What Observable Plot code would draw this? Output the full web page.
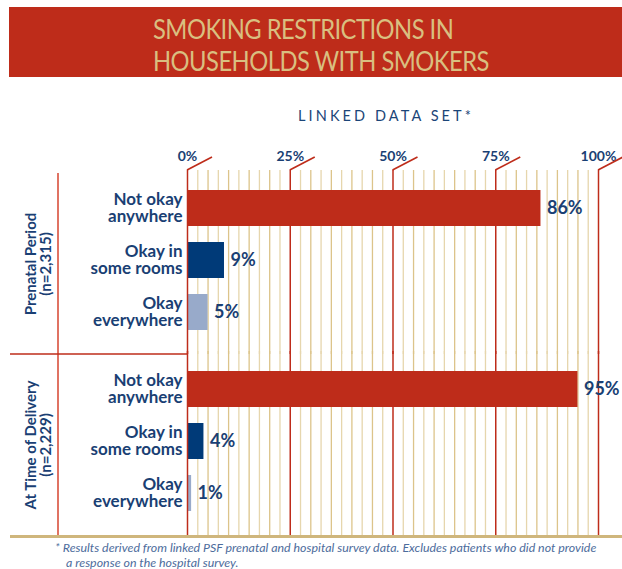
<!DOCTYPE html>
<html>
<head>
<meta charset="utf-8">
<script src="https://cdn.jsdelivr.net/npm/d3@7"></script>
<script src="https://cdn.jsdelivr.net/npm/@observablehq/plot@0.6"></script>
<style>
  html, body { margin: 0; padding: 0; background: #fff; }
  #wrap { position: relative; width: 622px; height: 569px; overflow: hidden; font-family: Lato, sans-serif; }
  #wrap svg { position: absolute; left: 0; top: 0; }
  .banner { position: absolute; left: 9px; top: 7px; width: 613px; height: 70px; background: #be2c1a; }
  .title { position: absolute; left: 153px; color: #d9bf80; font-size: 27px; font-weight: 400; white-space: nowrap; letter-spacing: -0.6px; line-height: 1; transform: scaleX(0.88); transform-origin: 0 0; }
  .subtitle { position: absolute; left: 0; width: 772px; top: 107px; text-align: center; color: #1b4578; font-size: 14.5px; letter-spacing: 3.1px; white-space: nowrap; }
  .note { position: absolute; color: #4d6c9c; font-size: 12.4px; font-style: italic; white-space: nowrap; line-height: 1; }
</style>
</head>
<body>
<div id="wrap">
  <div class="banner"></div>
  <div class="title" style="top:15px">SMOKING RESTRICTIONS IN</div>
  <div class="title" style="top:47px">HOUSEHOLDS WITH SMOKERS</div>
  <div class="subtitle">LINKED DATA SET*</div>
  <div class="note" style="left:55px; top:542px">* Results derived from linked PSF prenatal and hospital survey data. Excludes patients who did not provide</div>
  <div class="note" style="left:66px; top:557px">a response on the hospital survey.</div>
</div>
<script>
const groups = ["Prenatal Period\n(n=2,315)", "At Time of Delivery\n(n=2,229)"];
const categories = ["Not okay\nanywhere", "Okay in\nsome rooms", "Okay\neverywhere"];
const prenatalValues = [86, 9, 5];
const deliveryValues = [95, 4, 1];
const xTicks = [0, 25, 50, 75, 100];
const xTickLabels = ["0%", "25%", "50%", "75%", "100%"];
const barColors = ["#be2c1a", "#003a78", "#98aaca"];

const seriesByGroup = [prenatalValues, deliveryValues];
const rows = groups.flatMap((g, i) => categories.map((c, j) => ({group: g, category: c, value: seriesByGroup[i][j]})));
const minorTicks = d3.range(0, 100.01, 2.5).filter(t => !xTicks.includes(t));

const RED = "#be2c1a";
const BLUE = "#1a3f74";

const chart = Plot.plot({
  width: 622,
  height: 569,
  marginLeft: 187,
  marginRight: 24,
  marginTop: 173,
  marginBottom: 34,
  style: {fontFamily: "Lato, sans-serif", background: "transparent", overflow: "visible"},
  x: {domain: [0, 100], label: null},
  y: {domain: categories, axis: null, paddingInner: 0.31, paddingOuter: 0.385, align: 0.42},
  fy: {domain: groups, axis: null, padding: 0},
  color: {domain: categories, range: barColors},
  marks: [
    Plot.ruleX(minorTicks, {x: d => d, stroke: (d) => (d % 5 === 0 ? "#dcc48a" : "#e6d6ad"), strokeWidth: 1.3, insetTop: -3}),
    Plot.ruleX(xTicks.slice(1), {x: d => d, stroke: RED, strokeWidth: 1.5, insetTop: -3}),
    Plot.barX(rows, {fy: "group", y: "category", x: "value", fill: "category"}),
    Plot.ruleX([0], {stroke: RED, strokeWidth: 1.5, insetTop: -3}),
    Plot.axisX(xTicks, {anchor: "top", label: null, tickSize: 0, tickPadding: 13, tickFormat: (d) => xTickLabels[xTicks.indexOf(d)], fontSize: 14, fontWeight: "bold", color: BLUE}),
    Plot.text(rows, {fy: "group", y: "category", text: "category", frameAnchor: "left", textAnchor: "end", dx: -5, fontSize: 17, fontWeight: "bold", lineHeight: 1.0, fill: BLUE}),
    Plot.text(rows, {fy: "group", y: "category", x: "value", text: d => d.value + "%", textAnchor: "start", dx: 6, fontSize: 18, fontWeight: "bold", fill: BLUE}),
    Plot.text(groups, {fy: d => d, text: d => d, frameAnchor: "left", textAnchor: "middle", lineAnchor: "middle", rotate: -90, dx: -149, fontSize: 15, fontWeight: "bold", lineHeight: 1.0, fill: BLUE})
  ]
});

document.getElementById("wrap").appendChild(chart);

// decorative chrome using the plot's x scale
const xs = chart.scale("x");
const svgSel = d3.select(chart);
const chrome = svgSel.append("g");
const frameTop = 170;
xTicks.forEach(t => {
  const x = xs.apply(t);
  chrome.append("path").attr("d", `M${x},${frameTop}L${x + 25},${frameTop - 13}`).attr("stroke", RED).attr("stroke-width", 1.6).attr("fill", "none");
});
chrome.append("line").attr("x1", 58).attr("x2", 58).attr("y1", 173).attr("y2", 535).attr("stroke", "#e07363").attr("stroke-width", 2);
chrome.append("line").attr("x1", 10).attr("x2", xs.apply(0)).attr("y1", 354).attr("y2", 354).attr("stroke", RED).attr("stroke-width", 1.5);
chrome.append("line").attr("x1", 10).attr("x2", 622).attr("y1", 536.5).attr("y2", 536.5).attr("stroke", "#cfb67c").attr("stroke-width", 3);
</script>
</body>
</html>
